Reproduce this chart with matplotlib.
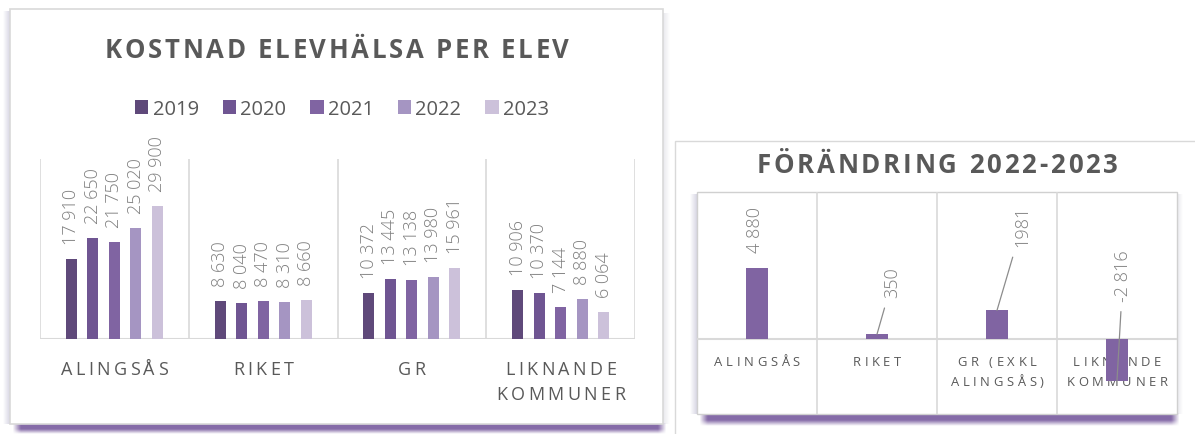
import matplotlib
matplotlib.use("Agg")
import matplotlib.pyplot as plt
from matplotlib.patches import Rectangle
from matplotlib.font_manager import FontProperties, findfont
from matplotlib.ft2font import FT2Font
import numpy as np

W, H = 1195, 435
DPI = 100
FAMILY = "Open Sans"

# kostnad per elev, kronor
regions = ["ALINGSÅS", "RIKET", "GR", "LIKNANDE\nKOMMUNER"]
years = ["2019", "2020", "2021", "2022", "2023"]
alingsas = [17910, 22650, 21750, 25020, 29900]
riket = [8630, 8040, 8470, 8310, 8660]
gr = [10372, 13445, 13138, 13980, 15961]
liknande = [10906, 10370, 7144, 8880, 6064]

# förändring 2022-2023
change_regions = ["ALINGSÅS", "RIKET", "GR (EXKL\nALINGSÅS)", "LIKNANDE\nKOMMUNER"]
change_values = [4880, 350, 1981, -2816]
change_text = ["4 880", "350", "1981", "-2 816"]

year_colors = ["#5F497A", "#6F5592", "#8064A2", "#A595C2", "#CCC1DA"]
bar_color = "#8064A2"
grid_c = "#d9d9d9"

plt.rcParams["font.family"] = [FAMILY, "DejaVu Sans"]

fig = plt.figure(figsize=(W / DPI, H / DPI), dpi=DPI)
fig.patch.set_facecolor("white")

# background layer in pixel coordinates (y downwards)
bg = fig.add_axes([0, 0, 1, 1], zorder=0)
bg.set_axis_off()


def px_axes(x0, y0, x1, y1):
    a = fig.add_axes([x0 / W, 1 - y1 / H, (x1 - x0) / W, (y1 - y0) / H], zorder=1)
    a.patch.set_visible(False)
    return a


def shadow(x0, x1, y0, y1, rgb, amax, z, taper=8):
    # soft band under a box: solid near the edge, fading downwards and at the ends
    ny, nx = 40, 400
    img = np.zeros((ny, nx, 4))
    img[..., :3] = rgb
    yy = np.linspace(0, 1, ny)[:, None]
    xx = np.linspace(0, 1, nx)[None, :]
    ay = np.clip((1 - yy) * 2.2, 0, 1)
    t = taper / (x1 - x0)
    ax_ = np.clip(np.minimum(xx / t, (1 - xx) / t), 0, 1)
    img[..., 3] = amax * ay * ax_
    bg.imshow(img, extent=(x0, x1, y1, y0), interpolation="bilinear",
              aspect="auto", zorder=z)


def fade_side(x0, x1, y0, y1, rgb, amax, z, outward_left=True):
    ny, nx = 10, 40
    img = np.zeros((ny, nx, 4))
    img[..., :3] = rgb
    xx = np.linspace(0, 1, nx)[None, :]
    prof = xx if outward_left else 1 - xx
    img[..., 3] = amax * prof * np.ones((ny, 1))
    bg.imshow(img, extent=(x0, x1, y1, y0), interpolation="bilinear",
              aspect="auto", zorder=z)


def spaced_text(x, y, s, size, color, weight="normal", width=None, track=0.0):
    fp = FontProperties(family=FAMILY, size=size, weight=weight)
    font = FT2Font(findfont(fp))
    font.set_size(size, DPI)
    adv = [font.load_char(ord(c)).linearHoriAdvance / 65536 for c in s]
    if width is not None:
        track = (width - sum(adv)) / (len(s) - 1)
    total = sum(adv) + track * (len(s) - 1)
    cx = x - total / 2
    for c, a in zip(s, adv):
        bg.text(cx, y, c, fontproperties=fp, color=color, ha="left",
                va="baseline", zorder=3)
        cx += a + track


purple = (0.50, 0.39, 0.64)
lav = (0.78, 0.77, 0.85)

# left panel frame with shadow
shadow(12, 667, 424, 435, purple, 0.95, 1)
fade_side(3, 10, 12, 425, lav, 0.7, 1, outward_left=True)
fade_side(663, 670, 14, 425, (0.85, 0.85, 0.88), 0.6, 1, outward_left=False)
bg.add_patch(Rectangle((10, 10), 653, 415, facecolor="white",
                       edgecolor=grid_c, lw=1.2, zorder=2))

# right panel frame and inner plot frame
bg.add_patch(Rectangle((675, 142), 540, 310, facecolor="white",
                       edgecolor=grid_c, lw=1.0, zorder=1.5))
shadow(699, 1180, 414, 427, purple, 0.95, 1.7)
fade_side(690, 697, 195, 415, lav, 0.7, 1.7, outward_left=True)
fade_side(1177, 1183, 195, 415, (0.85, 0.85, 0.88), 0.6, 1.7, outward_left=False)
bg.add_patch(Rectangle((697, 193), 480, 222, facecolor="white",
                       edgecolor="#d0d0d0", lw=1.0, zorder=2))

bg.set_xlim(0, W)
bg.set_ylim(H, 0)

# ---- left chart: cost per student by year ----
ax = px_axes(40, 160, 635, 340)
series = np.array([alingsas, riket, gr, liknande])
x = np.arange(len(regions))
step, bw = 0.1445, 0.074
handles = []
for j, yr in enumerate(years):
    xs = x + (j - 2) * step
    b = ax.bar(xs, series[:, j], width=bw, color=year_colors[j], label=yr, zorder=3)
    handles.append(b)
    for xi, v in zip(xs, series[:, j]):
        ax.annotate(f"{v:,}".replace(",", " "), xy=(xi, v), xytext=(0, 15),
                    textcoords="offset pixels", rotation=90, ha="center",
                    va="bottom", fontsize=13, fontweight="light", color="#7f7f7f")
ax.set_xlim(-0.5, 3.5)
ax.set_ylim(0, 40400)
ax.vlines([-0.5, 0.5, 1.5, 2.5, 3.5], 0, 40400, color=grid_c, lw=1.2, zorder=1)
ax.axhline(0, color=grid_c, lw=1.5, zorder=2)
for s in ax.spines.values():
    s.set_visible(False)
ax.set_xticks([])
ax.set_yticks([])

for i, name in enumerate(regions):
    cx = ax.transData.transform((i, 0))[0]
    for k, line in enumerate(name.split("\n")):
        spaced_text(cx, 375 + 25 * k, line, 13, "#595959", track=3.4)

spaced_text(337, 58, "KOSTNAD ELEVHÄLSA PER ELEV", 18.5, "#595959",
            weight="bold", width=464)

fig.legend(handles=handles, loc="center", bbox_to_anchor=(342 / W, 1 - 110 / H),
           ncol=5, frameon=False, fontsize=14.5, handlelength=0.66,
           handleheight=0.66, handletextpad=0.2, columnspacing=1.2,
           labelcolor="#595959")

# ---- right chart: change 2022-2023 ----
ax2 = px_axes(697, 193, 1177, 415)
x2 = np.arange(len(change_regions))
ax2.bar(x2, change_values, width=0.18, color=bar_color, zorder=4)
ax2.set_xlim(-0.5, 3.5)
ax2.set_ylim(-5105, 10075)
ax2.vlines([0.5, 1.5, 2.5], -5105, 10075, color=grid_c, lw=1.2, zorder=1)
ax2.axhline(0, color=grid_c, lw=1.5, zorder=2)
for s in ax2.spines.values():
    s.set_visible(False)
ax2.set_xticks([])
ax2.set_yticks([])

offsets = [(-2, 16), (15, 37), (25, 64), (6, 80)]
leader = [False, True, True, True]
for xi, v, t, off, ld in zip(x2, change_values, change_text, offsets, leader):
    kw = {}
    if ld:
        kw["arrowprops"] = dict(arrowstyle="-", color="#8c8c8c", lw=0.9,
                                shrinkA=6, shrinkB=0)
    ax2.annotate(t, xy=(xi, v), xytext=off, textcoords="offset pixels",
                 rotation=90, ha="center", va="bottom", fontsize=13,
                 fontweight="light", color="#7f7f7f", zorder=5, **kw)

for i, name in enumerate(change_regions):
    cx = ax2.transData.transform((i, 0))[0]
    for k, line in enumerate(name.split("\n")):
        spaced_text(cx, 366 + 20 * k, line, 9.4, "#595959", track=3.6)

spaced_text(937, 173, "FÖRÄNDRING 2022-2023", 18.6, "#595959",
            weight="bold", width=361)

fig.savefig("out.png", dpi=DPI, facecolor="white")
